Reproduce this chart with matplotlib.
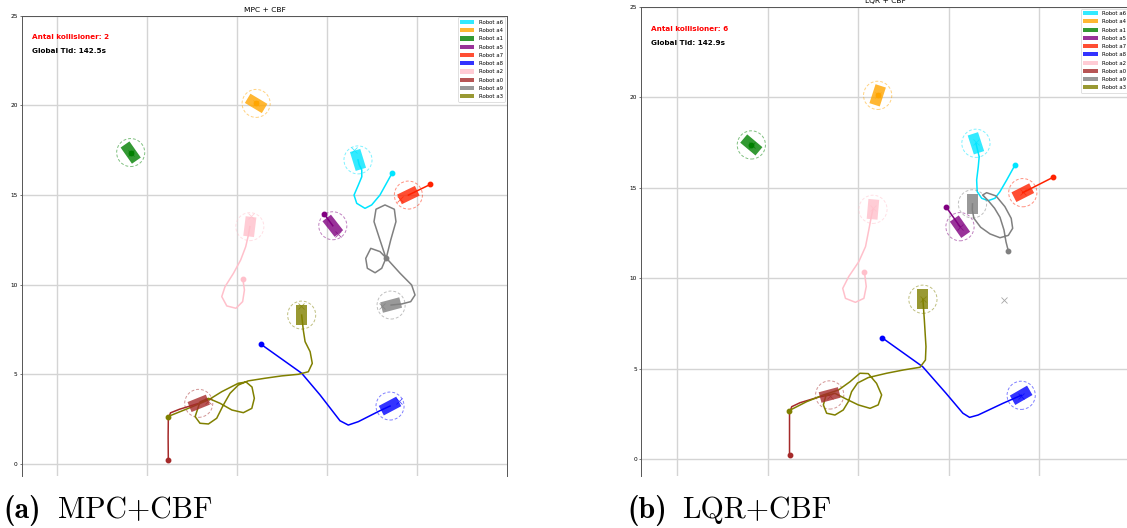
import matplotlib.pyplot as plt
from matplotlib.patches import Rectangle, Circle, Patch

# robot ids in legend order and their colours
robots = ['a6', 'a4', 'a1', 'a5', 'a7', 'a8', 'a2', 'a0', 'a9', 'a3']
colors = {'a6': '#00e5ff', 'a4': '#ffa500', 'a1': '#008000', 'a5': '#800080',
          'a7': '#ff2200', 'a8': '#0000ff', 'a2': '#ffc0cb', 'a0': '#a52a2a',
          'a9': '#808080', 'a3': '#808000'}

# goal positions (same scenario for both controllers)
goals = {'a6': (16.5, 17.5), 'a4': (11.06, 20.1), 'a1': (4.09, 17.36),
         'a5': (15.6, 12.8), 'a7': (19.07, 14.75), 'a8': (19.0, 3.5),
         'a2': (10.78, 13.85), 'a0': (8.4, 3.5), 'a9': (18.05, 8.8),
         'a3': (13.57, 8.82)}

# MPC + CBF: driven paths (first point = start, last point = robot now)
mpc_paths = {
    'a6': [(18.63, 16.24), (17.94, 14.99), (17.48, 14.44), (17.11, 14.25), (16.65, 14.53),
           (16.50, 14.99), (16.74, 15.55), (16.93, 16.01), (16.93, 16.39), (16.79, 16.67),
           (16.72, 16.95)],
    'a4': [(11.06, 20.1)],
    'a1': [(4.09, 17.36)],
    'a5': [(14.83, 13.95), (15.32, 13.28)],
    'a7': [(20.73, 15.58), (19.52, 14.99)],
    'a8': [(11.32, 6.68), (13.59, 5.06), (14.61, 3.85), (15.72, 2.41), (16.18, 2.17),
           (16.74, 2.36), (17.94, 2.97), (18.5, 3.23)],
    'a2': [(10.32, 10.33), (10.41, 9.70), (10.31, 9.05), (9.94, 8.68), (9.43, 8.81),
           (9.15, 9.33), (9.33, 9.88), (9.80, 10.63), (10.20, 11.37), (10.48, 12.11),
           (10.63, 12.76), (10.71, 13.23)],
    'a0': [(6.18, 0.22), (6.17, 1.5), (6.18, 2.5), (6.3, 2.85), (6.8, 3.05), (7.87, 3.38)],
    'a9': [(18.28, 11.46), (17.94, 12.49), (17.61, 13.51), (17.72, 14.20), (18.22, 14.44),
           (18.74, 14.20), (18.83, 13.51), (18.54, 12.49), (18.31, 11.56), (18.04, 10.91),
           (17.67, 10.66), (17.24, 10.91), (17.15, 11.46), (17.43, 12.02), (17.94, 11.84),
           (18.31, 11.46), (19.06, 10.63), (19.70, 9.98), (19.89, 9.42), (19.65, 9.05),
           (19.15, 8.92), (18.56, 8.86)],
    'a3': [(6.15, 2.64), (7.29, 3.10), (8.41, 3.57), (9.15, 4.03), (10.07, 4.50), (10.5, 4.57),
           (10.83, 4.29), (10.96, 3.66), (10.82, 3.10), (10.35, 2.86), (9.71, 3.01),
           (9.06, 3.38), (8.41, 3.66), (7.94, 3.46), (7.67, 2.64), (7.94, 2.27), (8.41, 2.23),
           (8.87, 2.55), (9.24, 3.29), (9.61, 3.94), (10.07, 4.40), (10.61, 4.63),
           (11.56, 4.78), (12.48, 4.91), (13.41, 5.00), (13.96, 5.14), (14.18, 5.61),
           (14.06, 6.26), (13.78, 6.82), (13.68, 7.47), (13.59, 8.3)],
}
mpc_heading = {'a6': 107, 'a4': -31, 'a1': -55, 'a5': -52, 'a7': 26,
               'a8': 28, 'a2': 83, 'a0': 22, 'a9': 15, 'a3': 90}

# LQR + CBF
lqr_paths = {
    'a6': [(18.65, 16.25), (18.19, 15.42), (17.82, 14.78), (17.54, 14.41), (17.17, 14.28),
           (16.81, 14.41), (16.56, 14.78), (16.53, 15.42), (16.62, 16.16), (16.67, 16.71),
           (16.49, 17.45)],
    'a4': [(11.06, 20.1)],
    'a1': [(4.08, 17.36)],
    'a5': [(14.83, 13.95), (15.61, 12.84)],
    'a7': [(20.75, 15.57), (19.08, 14.72)],
    'a8': [(11.32, 6.69), (13.55, 5.10), (14.84, 3.63), (15.77, 2.53), (16.14, 2.30),
           (16.61, 2.43), (17.99, 3.08), (18.99, 3.52)],
    'a2': [(10.33, 10.34), (10.43, 9.53), (10.30, 8.88), (9.83, 8.66), (9.28, 8.88),
           (9.13, 9.43), (9.46, 10.08), (10.02, 10.91), (10.39, 11.74), (10.57, 12.66),
           (10.71, 13.40), (10.80, 13.80)],
    'a0': [(6.19, 0.22), (6.19, 1.5), (6.19, 2.52), (6.31, 2.89), (6.77, 3.11),
           (7.87, 3.44), (8.41, 3.54)],
    'a9': [(18.28, 11.50), (18.15, 12.01), (18.04, 12.66), (17.82, 13.36), (17.52, 13.86),
           (17.17, 14.28), (16.86, 14.59), (17.08, 14.72), (17.60, 14.54), (18.09, 13.95),
           (18.44, 13.30), (18.52, 12.75), (18.28, 12.36), (17.82, 12.23), (17.27, 12.44),
           (16.75, 12.81), (16.38, 13.30), (16.29, 13.76), (16.3, 14.1)],
    'a3': [(6.16, 2.67), (7.14, 3.17), (8.06, 3.54), (8.89, 3.81), (9.53, 4.27), (10.08, 4.74),
           (10.54, 4.72), (11.0, 4.18), (11.28, 3.54), (11.09, 2.99), (10.64, 2.80),
           (9.99, 2.99), (9.35, 3.30), (8.70, 3.63), (8.2, 3.5), (8.06, 2.99), (8.24, 2.53),
           (8.70, 2.43), (9.16, 2.71), (9.44, 3.17), (9.62, 3.72), (9.95, 4.2), (10.54, 4.5),
           (11.56, 4.74), (12.48, 4.92), (13.40, 5.07), (13.70, 5.47), (13.73, 6.21),
           (13.64, 7.68), (13.56, 8.83)],
}
lqr_heading = {'a6': 108, 'a4': 72, 'a1': -40, 'a5': -55, 'a7': 27,
               'a8': 30, 'a2': 85, 'a0': 15, 'a9': 90, 'a3': 90}

collisions = [2, 6]
global_time = [142.5, 142.9]
titles = ['MPC + CBF', 'LQR + CBF']
captions = [('(a)', 'MPC+CBF'), ('(b)', 'LQR+CBF')]

ROBOT_L, ROBOT_W, SAFE_R = 1.1, 0.6, 0.78


def draw_scene(ax, paths, heading, n_coll, t_glob, title):
    for r in robots:
        c = colors[r]
        xs = [p[0] for p in paths[r]]
        ys = [p[1] for p in paths[r]]
        ax.plot(xs, ys, color=c, lw=1.1, zorder=3, solid_joinstyle='round')
        ax.plot(xs[0], ys[0], 'o', color=c, ms=3.2, zorder=4)
        gx, gy = goals[r]
        ax.plot(gx, gy, 'x', color=c, ms=4, mew=0.6, alpha=0.7, zorder=5)
        x, y = xs[-1], ys[-1]
        ax.add_patch(Rectangle((x - ROBOT_L / 2, y - ROBOT_W / 2), ROBOT_L, ROBOT_W,
                               angle=heading[r], rotation_point='center',
                               facecolor=c, alpha=0.8, lw=0, zorder=4))
        ax.add_patch(Circle((x, y), SAFE_R, fill=False, edgecolor=c, ls=(0, (3, 2)),
                            lw=0.7, alpha=0.5, zorder=3))

    ax.text(0.0206, 0.953, f'Antal kollisioner: {n_coll}', transform=ax.transAxes,
            color='red', fontsize=5.2, fontweight='bold', va='center')
    ax.text(0.0206, 0.923, f'Global Tid: {t_glob}s', transform=ax.transAxes,
            color='black', fontsize=5.2, fontweight='bold', va='center')

    handles = [Patch(facecolor=colors[r], alpha=0.8, label=f'Robot {r}') for r in robots]
    leg = ax.legend(handles=handles, loc='upper right', fontsize=3.9, handlelength=2.6,
                    handleheight=0.8, labelspacing=0.6, borderpad=0.45,
                    borderaxespad=0.35, framealpha=0.85)
    leg.get_frame().set_linewidth(0.5)
    leg.get_frame().set_edgecolor('#cccccc')

    ax.set_title(title, fontsize=5.4, pad=2.5)
    ax.set_xticks([0, 5, 10, 15, 20])
    ax.set_yticks([0, 5, 10, 15, 20, 25])
    ax.tick_params(axis='x', length=0, labelbottom=False)
    ax.tick_params(axis='y', length=1.6, width=0.5, pad=1.5, labelsize=4.2,
                   color='#444444')
    ax.grid(True, color='#d4d4d4', lw=1.0)
    ax.set_axisbelow(True)
    ax.spines['bottom'].set_visible(False)
    for s in ['left', 'right', 'top']:
        ax.spines[s].set_linewidth(0.7)
        ax.spines[s].set_color('#555555')


fig = plt.figure(figsize=(11.27, 5.28), dpi=100)
W, H = 1127.0, 528.0

ax1 = fig.add_axes([22 / W, 1 - 476 / H, 485 / W, (476 - 15.5) / H])
draw_scene(ax1, mpc_paths, mpc_heading, collisions[0], global_time[0], titles[0])
ax1.set_xlim(-1.95, 25)
ax1.set_ylim(-0.67, 25)

ax2 = fig.add_axes([641.3 / W, 1 - 476 / H, 489 / W, (476 - 6.7) / H])
draw_scene(ax2, lqr_paths, lqr_heading, collisions[1], global_time[1], titles[1])
ax2.set_xlim(-2.0, 25.02)
ax2.set_ylim(-0.94, 25)

# subfigure captions
for x0, x1, (tag, name) in [(3 / W, 58 / W, captions[0]), (627 / W, 682 / W, captions[1])]:
    fig.text(x0, 1 - 518 / H, tag, family='cmb10', fontsize=21.5, va='baseline')
    fig.text(x1, 1 - 518 / H, name, family='cmr10', fontsize=21.5, va='baseline')

fig.savefig('out.png', dpi=100)
